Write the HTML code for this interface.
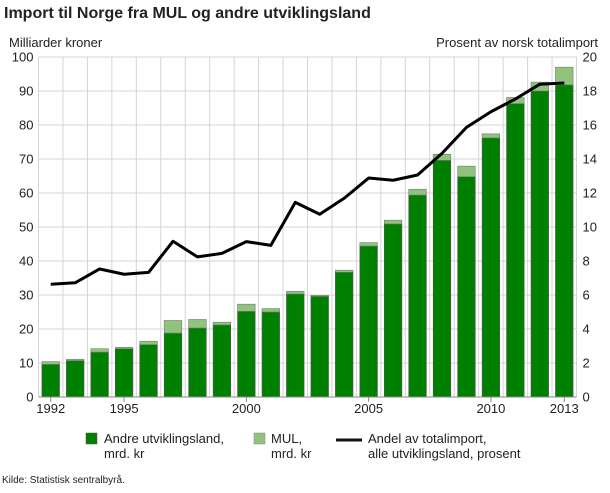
<!DOCTYPE html>
<html><head><meta charset="utf-8"><style>
body{margin:0;background:#fff;font-family:"Liberation Sans",sans-serif;}
svg text{font-family:"Liberation Sans",sans-serif;fill:#222;}
</style></head><body>
<svg width="610" height="488" viewBox="0 0 610 488">
<text x="4" y="18" font-size="16" font-weight="bold">Import til Norge fra MUL og andre utviklingsland</text>
<text x="9" y="47" font-size="13">Milliarder kroner</text>
<text x="598" y="47" font-size="13" text-anchor="end">Prosent av norsk totalimport</text>
<g id="grid"></g><g id="bars"></g><g id="line"></g><g id="axes"></g>
<g>
<rect x="86" y="433" width="11" height="11" fill="#008000" stroke="#555" stroke-width="0.5"/>
<text x="104" y="443" font-size="13">Andre utviklingsland,</text>
<text x="104" y="458" font-size="13">mrd. kr</text>
<rect x="254" y="433" width="11" height="11" fill="#90c47c" stroke="#888" stroke-width="0.5"/>
<text x="271" y="443" font-size="13">MUL,</text>
<text x="271" y="458" font-size="13">mrd. kr</text>
<line x1="336" y1="440" x2="362" y2="440" stroke="#111" stroke-width="3"/>
<text x="368" y="443" font-size="13">Andel av totalimport,</text>
<text x="368" y="458" font-size="13">alle utviklingsland, prosent</text>
</g>
<text x="2" y="483" font-size="10">Kilde: Statistisk sentralbyrå.</text>
</svg>
<script>
const years=[1992,1993,1994,1995,1996,1997,1998,1999,2000,2001,2002,2003,2004,2005,2006,2007,2008,2009,2010,2011,2012,2013];
const andre=[9.6,10.7,13.2,14.2,15.4,18.8,20.3,21.2,25.2,25.0,30.3,29.6,36.7,44.4,50.9,59.4,69.6,64.8,76.2,86.3,90.0,91.8];
const mul=[0.8,0.4,1.0,0.4,1.0,3.7,2.5,0.8,2.1,1.0,0.8,0.3,0.6,1.0,1.1,1.7,1.8,3.1,1.2,1.8,2.6,5.2];
const andel=[6.63,6.72,7.53,7.22,7.33,9.16,8.24,8.45,9.14,8.92,11.45,10.75,11.69,12.88,12.75,13.06,14.33,15.86,16.78,17.53,18.4,18.47];
const leftTicks=[0,10,20,30,40,50,60,70,80,90,100];
const rightTicks=[0,2,4,6,8,10,12,14,16,18,20];
const xLabels=[1992,1995,2000,2005,2010,2013];
const NS='http://www.w3.org/2000/svg';
const L=38.5,R=576.5,T=57,B=397;
const step=(R-L)/years.length;
const xc=i=>L+step*(i+0.5);
const yL=v=>B-(v/100)*(B-T);
const yR=v=>B-(v/20)*(B-T);
function mk(p,tag,a){const e=document.createElementNS(NS,tag);for(const k in a)e.setAttribute(k,a[k]);document.getElementById(p).appendChild(e);return e;}
leftTicks.forEach((t,i)=>{
 const g=mk('grid','line',{x1:L,x2:R,y1:yL(t),y2:yL(t),stroke:'#d4d4d4','stroke-width':1});
 
 
 const tx=mk('axes','text',{x:L-5,y:yL(t)+4.5,'font-size':13,'text-anchor':'end'});tx.textContent=t;
 
 
});
rightTicks.forEach(t=>{
 const tx=mk('axes','text',{x:R+6,y:yR(t)+4.5,'font-size':13});tx.textContent=t;
 
 
});
for(let i=0;i<=years.length;i++){
 const g=mk('grid','line',{x1:L+step*i,x2:L+step*i,y1:T,y2:B,stroke:'#d4d4d4','stroke-width':1});
 
 
}
const bw=17.6;
years.forEach((y,i)=>{
 const b=mk('bars','rect',{x:xc(i)-bw/2,y:yL(andre[i]),width:bw,height:B-yL(andre[i]),fill:'#008000',stroke:'#555','stroke-width':0.6});
 
 
 const m=mk('bars','rect',{x:xc(i)-bw/2,y:yL(andre[i]+mul[i]),width:bw,height:yL(andre[i])-yL(andre[i]+mul[i]),fill:'#90c47c',stroke:'#777','stroke-width':0.6});
 
 
});
const pl=mk('line','polyline',{points:andel.map((v,i)=>xc(i)+','+yR(v)).join(' '),fill:'none',stroke:'#000','stroke-width':3,'stroke-linejoin':'round'});


const ax=mk('axes','line',{x1:L,x2:R,y1:B,y2:B,stroke:'#888','stroke-width':1});


xLabels.forEach(y=>{
 const i=years.indexOf(y);
 const tk=mk('axes','line',{x1:xc(i),x2:xc(i),y1:B,y2:B+5,stroke:'#888'});
 
 
 const tx=mk('axes','text',{x:xc(i),y:B+16,'font-size':13,'text-anchor':'middle'});tx.textContent=y;
 
 
});
</script>
</body></html>
